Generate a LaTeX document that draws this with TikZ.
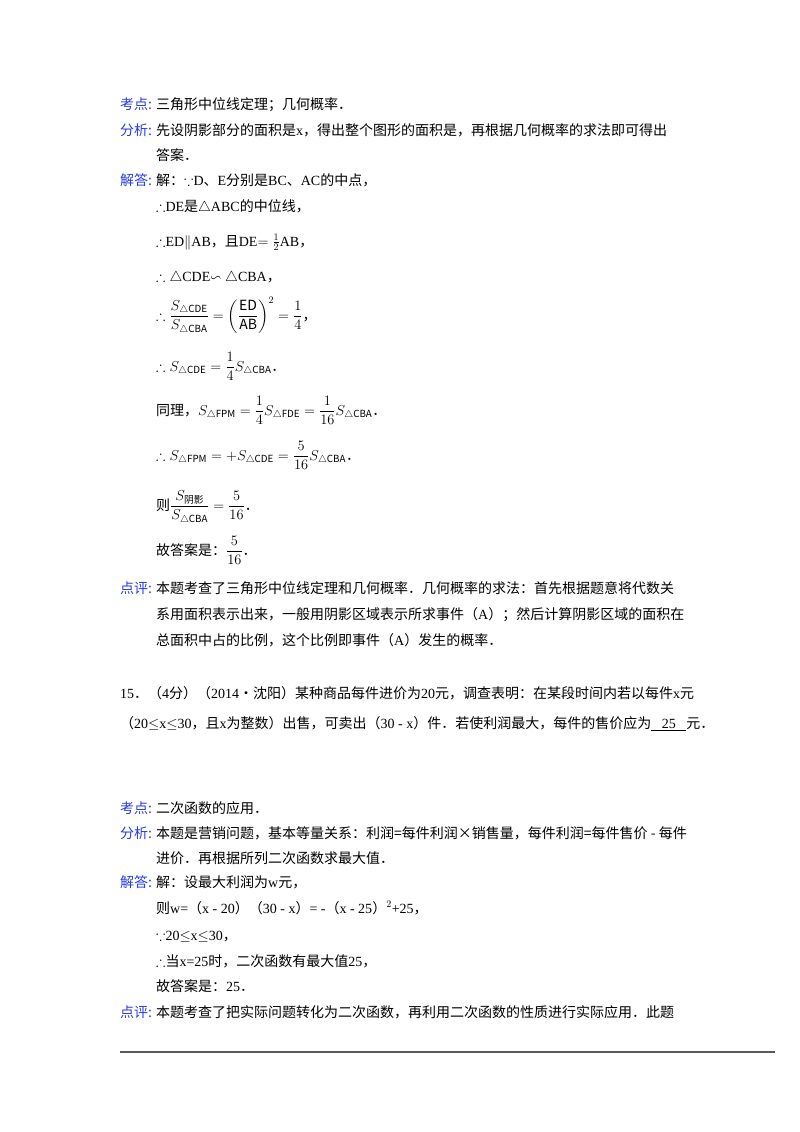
\documentclass[tikz,border=0pt]{standalone}
\usepackage{amsmath,amssymb}
\usepackage{fontspec}
\setmainfont{Noto Sans CJK SC}
\newfontfamily\lat{Liberation Serif}
\definecolor{lab}{RGB}{40,60,230}
\tikzset{t/.style={anchor=base west,inner sep=0pt,font=\fontsize{14}{16}\selectfont},
 lb/.style={t,text=lab}}
\newcommand{\LL}[1]{{\lat #1}}
\begin{document}
\begin{tikzpicture}[x=1pt,y=-1pt]
\useasboundingbox (0,0) rectangle (800,1132);
\fill[white] (0,0) rectangle (800,1132);
\node[lb] (k1) at (120,109) {考点:};
\node[t] (k1t) at (156,109) {三角形中位线定理；几何概率．};
\node[lb] (f1) at (120,135) {分析:};
\node[t] (f1t) at (156,135) {先设阴影部分的面积是\LL{x}，得出整个图形的面积是，再根据几何概率的求法即可得出};
\node[t] (f1u) at (156,160) {答案．};
\node[lb] (j1) at (120,185) {解答:};
\node[t] (j1a) at (156,185) {解：$\because$\LL{D}、\LL{E}分别是\LL{BC}、\LL{AC}的中点，};
\node[t] (j1b) at (156,211) {$\therefore$\LL{DE}是$\triangle$\LL{ABC}的中位线，};
\node[t] (j1c) at (156,246) {$\therefore$\LL{ED}$\parallel$\LL{AB}，且\LL{DE}$=\frac{1}{2}$\LL{AB}，};
\node[t] (j1d) at (156,281) {$\therefore\triangle$\LL{CDE}$\backsim\triangle$\LL{CBA}，};
\node[t] (j1e) at (156,320) {$\therefore\dfrac{S_{\triangle\mathrm{CDE}}}{S_{\triangle\mathrm{CBA}}}=\left(\dfrac{\mathrm{ED}}{\mathrm{AB}}\right)^2=\dfrac14$，};
\node[t] (j1f) at (156,371) {$\therefore S_{\triangle\mathrm{CDE}}=\dfrac14S_{\triangle\mathrm{CBA}}$．};
\node[t] (j1g) at (156,415) {同理，$S_{\triangle\mathrm{FPM}}=\dfrac14S_{\triangle\mathrm{FDE}}=\dfrac1{16}S_{\triangle\mathrm{CBA}}$．};
\node[t] (j1h) at (156,460) {$\therefore S_{\triangle\mathrm{FPM}}=+S_{\triangle\mathrm{CDE}}=\dfrac5{16}S_{\triangle\mathrm{CBA}}$．};
\node[t] (j1i) at (156,510) {则$\dfrac{S_{\text{阴影}}}{S_{\triangle\mathrm{CBA}}}=\dfrac5{16}$．};
\node[t] (j1j) at (156,555) {故答案是：$\dfrac5{16}$．};
\node[lb] (p1) at (120,593) {点评:};
\node[t] (p1a) at (156,593) {本题考查了三角形中位线定理和几何概率．几何概率的求法：首先根据题意将代数关};
\node[t] (p1b) at (156,619) {系用面积表示出来，一般用阴影区域表示所求事件（\LL{A}）；然后计算阴影区域的面积在};
\node[t] (p1c) at (156,645) {总面积中占的比例，这个比例即事件（\LL{A}）发生的概率．};
\node[t] (q) at (120,698) {\LL{15}．（\LL{4}分）（\LL{2014}•沈阳）某种商品每件进价为\LL{20}元，调查表明：在某段时间内若以每件\LL{x}元};
\node[t] (q2) at (120,728) {（\LL{20}$\leq$\LL{x}$\leq$\LL{30}，且\LL{x}为整数）出售，可卖出（\LL{30 - x}）件．若使利润最大，每件的售价应为\underline{\LL{\ \ \ 25\ \ \ }}元．};
\node[lb] (k2) at (120,813) {考点:};
\node[t] (k2t) at (156,813) {二次函数的应用．};
\node[lb] (f2) at (120,838) {分析:};
\node[t] (f2t) at (156,838) {本题是营销问题，基本等量关系：利润=每件利润×销售量，每件利润=每件售价 - 每件};
\node[t] (f2u) at (156,863) {进价．再根据所列二次函数求最大值．};
\node[lb] (j2) at (120,887) {解答:};
\node[t] (j2a) at (156,887) {解：设最大利润为\LL{w}元，};
\node[t] (j2b) at (156,913) {则\LL{w=}（\LL{x - 20}）（\LL{30 - x}）\LL{= -}（\LL{x - 25}）\LL{$^2$+25}，};
\node[t] (j2c) at (156,940) {$\because$\LL{20}$\leq$\LL{x}$\leq$\LL{30}，};
\node[t] (j2d) at (156,966) {$\therefore$当\LL{x=25}时，二次函数有最大值\LL{25}，};
\node[t] (j2e) at (156,991) {故答案是：\LL{25}．};
\node[lb] (p2) at (120,1017) {点评:};
\node[t] (p2a) at (156,1017) {本题考查了把实际问题转化为二次函数，再利用二次函数的性质进行实际应用．此题};
\coordinate (r1) at (120,1052);
\coordinate (r2) at (775,1052);
\draw[line width=1.2pt,gray!70!black] (r1) -- (r2);
\end{tikzpicture}
\end{document}
